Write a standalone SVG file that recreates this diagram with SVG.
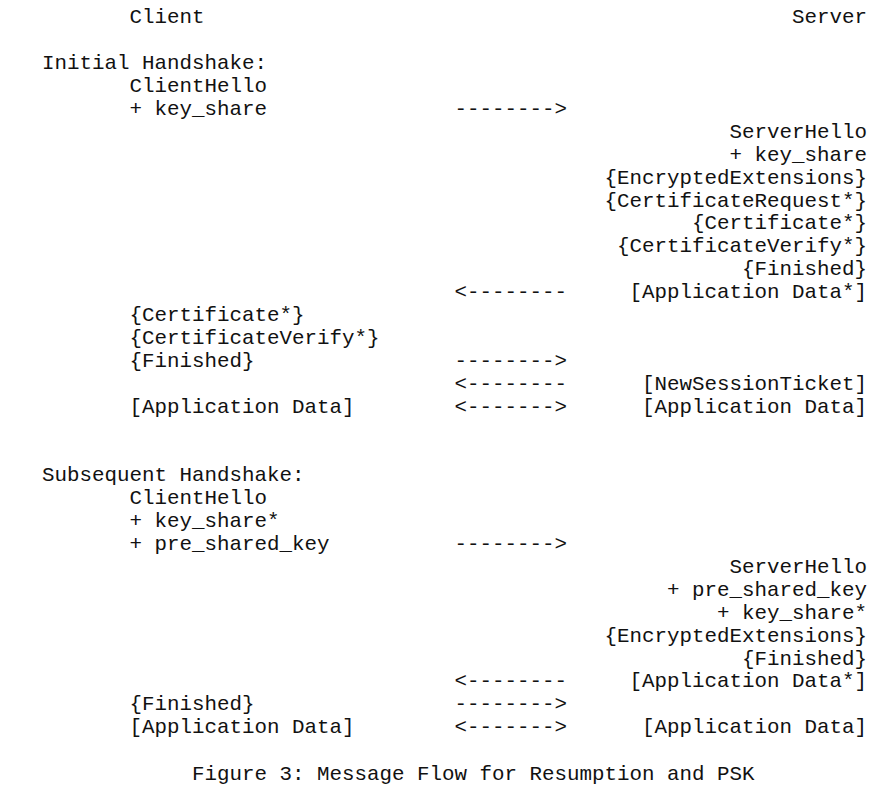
<svg xmlns="http://www.w3.org/2000/svg" width="889" height="794" viewBox="0 0 889 794">
<style>
text{font-family:"Liberation Mono","Courier New",monospace;font-size:20.83px;fill:#111;white-space:pre}
</style>
<rect width="889" height="794" fill="#fff"/>
<g id="header-client"><text x="129.5" y="23.3">Client</text></g>
<g id="header-server"><text x="792" y="23.3">Server</text></g>
<g id="initial-label"><text x="42" y="69.1">Initial Handshake:</text></g>
<g id="c-clienthello-1"><text x="129.5" y="92">ClientHello</text><text x="129.5" y="114.9">+ key_share</text></g>
<g id="s-serverhello-1">
<text x="729.5" y="137.8">ServerHello</text>
<text x="729.5" y="160.7">+ key_share</text>
<text x="604.5" y="183.6">{EncryptedExtensions}</text>
<text x="604.5" y="206.5">{CertificateRequest*}</text>
<text x="692" y="229.4">{Certificate*}</text>
<text x="617" y="252.3">{CertificateVerify*}</text>
<text x="742" y="275.2">{Finished}</text>
<text x="629.5" y="298.1">[Application Data*]</text>
</g>
<g id="c-finished-1">
<text x="129.5" y="321">{Certificate*}</text>
<text x="129.5" y="343.9">{CertificateVerify*}</text>
<text x="129.5" y="366.8">{Finished}</text>
</g>
<g id="s-ticket"><text x="642" y="389.7">[NewSessionTicket]</text></g>
<g id="c-appdata-1"><text x="129.5" y="412.6">[Application Data]</text></g>
<g id="s-appdata-1"><text x="642" y="412.6">[Application Data]</text></g>
<g id="subsequent-label"><text x="42" y="481.3">Subsequent Handshake:</text></g>
<g id="c-clienthello-2">
<text x="129.5" y="504.2">ClientHello</text>
<text x="129.5" y="527.1">+ key_share*</text>
<text x="129.5" y="550">+ pre_shared_key</text>
</g>
<g id="s-serverhello-2">
<text x="729.5" y="572.9">ServerHello</text>
<text x="667" y="595.8">+ pre_shared_key</text>
<text x="717" y="618.7">+ key_share*</text>
<text x="604.5" y="641.6">{EncryptedExtensions}</text>
<text x="742" y="664.5">{Finished}</text>
<text x="629.5" y="687.4">[Application Data*]</text>
</g>
<g id="c-finished-2"><text x="129.5" y="710.3">{Finished}</text></g>
<g id="c-appdata-2"><text x="129.5" y="733.2">[Application Data]</text></g>
<g id="s-appdata-2"><text x="642" y="733.2">[Application Data]</text></g>
<g id="connectors">
<text x="454.5" y="114.9">--------&gt;</text>
<text x="454.5" y="298.1">&lt;--------</text>
<text x="454.5" y="366.8">--------&gt;</text>
<text x="454.5" y="389.7">&lt;--------</text>
<text x="454.5" y="412.6">&lt;-------&gt;</text>
<text x="454.5" y="550">--------&gt;</text>
<text x="454.5" y="687.4">&lt;--------</text>
<text x="454.5" y="710.3">--------&gt;</text>
<text x="454.5" y="733.2">&lt;-------&gt;</text>
</g>
<g id="caption"><text x="192" y="779.8">Figure 3: Message Flow for Resumption and PSK</text></g>
</svg>
